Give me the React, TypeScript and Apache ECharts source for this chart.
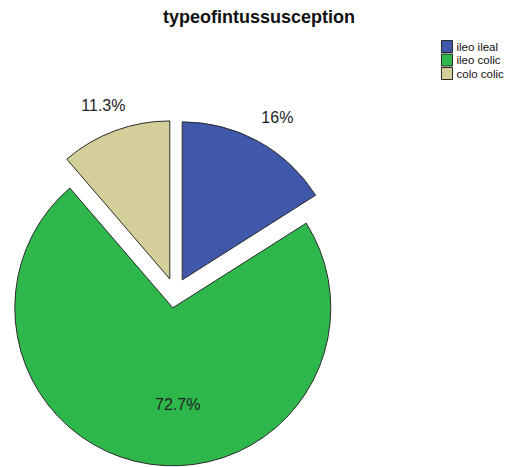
import React, { useEffect, useRef } from "react";
import * as echarts from "echarts";

const categories = ["ileo ileal", "ileo colic", "colo colic"];
const percents = [16, 72.7, 11.3];
const colors = ["#3f58aa", "#2eb84b", "#d4cf9a"];
const titleText = "typeofintussusception";

export default function App() {
  const ref = useRef<HTMLDivElement>(null);
  useEffect(() => {
    document.body.style.margin = "0";
    const chart = echarts.init(ref.current!, null, { renderer: "svg" });
    // per-slice label placement (label line hidden)
    const labelLen = [27, -60, 27];
    const labelDist = [-10, -42, -20];
    chart.setOption({
      animation: false,
      backgroundColor: "#ffffff",
      textStyle: { fontFamily: "Liberation Sans, Arial, sans-serif" },
      title: {
        text: titleText,
        left: 259,
        top: 8,
        textAlign: "center",
        padding: 0,
        textStyle: { fontSize: 18, fontWeight: "bold", color: "#111", fontFamily: "Liberation Sans, Arial, sans-serif" },
      },
      legend: {
        orient: "vertical",
        left: 441,
        top: 40,
        padding: 0,
        itemWidth: 11,
        itemHeight: 12,
        itemGap: 0.5,
        icon: "rect",
        selectedMode: false,
        data: categories,
        itemStyle: { borderColor: "#2a2a2a", borderWidth: 1 },
        textStyle: { fontSize: 11.5, color: "#111", padding: [0, 0, 0, -1], fontFamily: "Liberation Sans, Arial, sans-serif" },
      },
      series: [
        {
          type: "pie",
          center: [175, 293],
          radius: 158,
          startAngle: 90,
          clockwise: true,
          selectedMode: "multiple",
          selectedOffset: 15,
          avoidLabelOverlap: false,
          itemStyle: { borderColor: "#2a2a2a", borderWidth: 1 },
          emphasis: { disabled: true },
          data: categories.map((name, i) => ({
            name,
            value: percents[i],
            selected: true,
            itemStyle: { color: colors[i] },
            select: { itemStyle: { color: colors[i], borderColor: "#2a2a2a", borderWidth: 1 } },
            label: {
              show: true,
              position: "outside",
              formatter: `${percents[i]}%`,
              fontSize: 16,
              color: "#222",
              distanceToLabelLine: labelDist[i],
              fontFamily: "Liberation Sans, Arial, sans-serif",
            },
            labelLine: { show: false, length: labelLen[i], length2: 0 },
          })),
        },
      ],
    });
    return () => chart.dispose();
  }, []);
  return <div ref={ref} style={{ width: 508, height: 467 }} />;
}
